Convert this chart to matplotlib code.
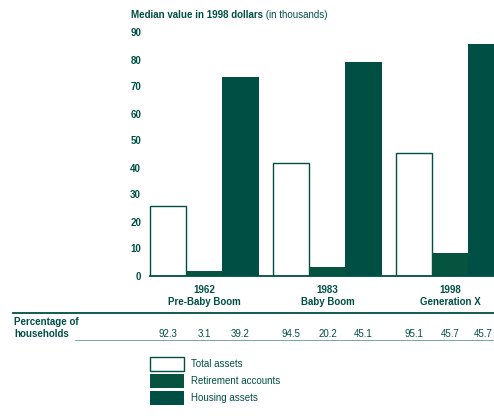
import numpy as np
import matplotlib
matplotlib.use('Agg')
import matplotlib.pyplot as plt
from matplotlib import transforms
from matplotlib.lines import Line2D
from matplotlib.patches import Patch

plt.rcParams['font.family'] = ['Liberation Sans', 'DejaVu Sans']

# Median values in 1998 dollars (thousands)
years = ['1962', '1983', '1998']
cohorts = ['Pre-Baby Boom', 'Baby Boom', 'Generation X']
total_assets = [25.7, 41.6, 45.3]
retirement = [1.7, 3.1, 8.2]
housing = [73.4, 79.1, 85.6]

# Percentage of households holding each asset
pct_total = [92.3, 94.5, 95.1]
pct_retirement = [3.1, 20.2, 45.7]
pct_housing = [39.2, 45.1, 45.7]

series_names = ['Total assets', 'Retirement accounts', 'Housing assets']
yticks = list(range(0, 100, 10))

green = '#004f45'
green2 = '#06533f'

W, H = 494, 416
fig = plt.figure(figsize=(W / 100, H / 100), dpi=100)
ax = fig.add_axes([148 / W, (H - 275.5) / H, (W - 148) / W, 243 / H])

x = np.arange(len(years))
w = 0.293
ax.bar(x - w, total_assets, w, color='white', edgecolor=green, linewidth=1.0)
ax.bar(x, retirement, w, color=green2, linewidth=0)
ax.bar(x + w, housing, w, color=green, linewidth=0)

ax.set_xlim(-0.459, 2.354)
ax.set_ylim(0, 90)
ax.set_yticks(yticks)
ax.set_yticklabels([str(t) for t in yticks], fontsize=7, fontweight='bold', color=green)
ax.tick_params(axis='y', length=0, pad=5)
ax.set_xticks([])
for s in ax.spines.values():
    s.set_visible(False)

# baseline under the bars
left = x[0] - 1.5 * w
xl = ax.get_xlim()
ax.axhline(0, xmin=(left - xl[0]) / (xl[1] - xl[0]), xmax=1, color=green, lw=1.3, clip_on=False)

# title: bold part followed by regular part
t = fig.text(131 / W, 1 - 15 / H, 'Median value in 1998 dollars', fontsize=7, fontweight='bold',
             color=green, va='center', ha='left')
ax.annotate(' (in thousands)', xy=(1, 0.5), xycoords=t, va='center', ha='left',
            fontsize=7, color=green)

# group labels below the axis
tr = transforms.blended_transform_factory(ax.transData, fig.transFigure)
for i in range(len(years)):
    ax.text(x[i], 1 - 290 / H, years[i], transform=tr, ha='center', va='center',
            fontsize=7, fontweight='bold', color=green)
    ax.text(x[i], 1 - 302 / H, cohorts[i], transform=tr, ha='center', va='center',
            fontsize=7, fontweight='bold', color=green)

# percentage row
fig.add_artist(Line2D([13 / W, 1], [1 - 313 / H] * 2, color=green, lw=1.3))
fig.add_artist(Line2D([75 / W, 1], [1 - 340 / H] * 2, color=green, lw=0.6, alpha=0.6))
fig.text(14 / W, 1 - 328 / H, 'Percentage of\nhouseholds', fontsize=7, fontweight='bold',
         color=green, va='center', ha='left', linespacing=1.15)
ypct = 1 - 334 / H
for i in range(len(years)):
    for off, vals in zip((-w, 0, w), (pct_total, pct_retirement, pct_housing)):
        label = f'{vals[i]:.1f}'
        if i == len(years) - 1 and off > 0:
            # last column runs into the figure edge; right-align it there
            fig.text(1 - 1 / W, ypct, label, ha='right', va='center', fontsize=7, color=green)
        else:
            ax.text(x[i] + off, ypct, label, transform=tr, ha='center',
                    va='center', fontsize=7, color=green)

# legend
handles = [Patch(facecolor='white', edgecolor=green, linewidth=1.0),
           Patch(facecolor=green2, linewidth=0),
           Patch(facecolor=green, linewidth=0)]
leg = fig.legend(handles, series_names, loc='upper left', bbox_to_anchor=(150 / W, 1 - 357 / H),
                 frameon=False, fontsize=7, handlelength=3.5, handleheight=1.85,
                 labelspacing=0.3, handletextpad=0.7, borderpad=0, borderaxespad=0)
for txt in leg.get_texts():
    txt.set_color(green)

fig.savefig('out.png', dpi=100)
